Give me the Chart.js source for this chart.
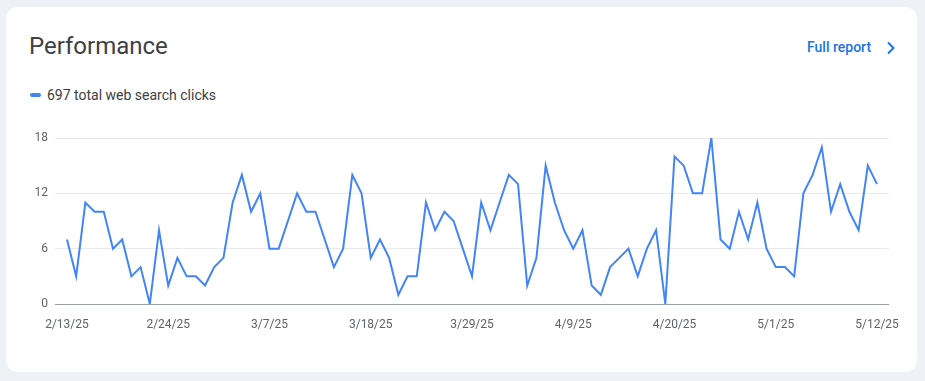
<!DOCTYPE html>
<html>
<head>
<meta charset="utf-8">
<script src="https://cdn.jsdelivr.net/npm/chart.js@4/dist/chart.umd.min.js"></script>
<style>
  html, body { margin: 0; padding: 0; }
  body { width: 925px; height: 381px; background: #eef1f6; position: relative; overflow: hidden; font-family: Roboto, "Noto Sans", sans-serif; }
  .card { position: absolute; left: 6px; top: 7px; width: 911px; height: 365px; background: #ffffff; border-radius: 12px; }
  .title { position: absolute; left: 29px; top: 32px; font-size: 24px; color: #3c4043; font-weight: 400; letter-spacing: 0px; }
  .link { position: absolute; left: 807px; top: 39px; font-size: 14px; color: #1a73e8; font-weight: 500; }
  .chev { position: absolute; left: 884px; top: 41px; }
  .legend { position: absolute; left: 30px; top: 87px; font-size: 14px; color: #3c4043; }
  .legend .sw { display: inline-block; width: 11px; height: 4px; border-radius: 2px; background: #4285f4; vertical-align: middle; margin-right: 6px; position: relative; top: -1px; }
  #wrap { position: absolute; left: 0; top: 121px; width: 925px; height: 220px; }
</style>
</head>
<body>
<div class="card"></div>
<div class="title">Performance</div>
<div class="link">Full report</div>
<svg class="chev" width="14" height="14" viewBox="0 0 14 14"><path d="M4 1.5 L9.5 7 L4 12.5" fill="none" stroke="#1a73e8" stroke-width="2"/></svg>
<div class="legend"><span class="sw"></span>697 total web search clicks</div>
<div id="wrap"><canvas id="c" width="925" height="220"></canvas></div>
<script>
const dates = [
  "2/13/25","2/14/25","2/15/25","2/16/25","2/17/25","2/18/25","2/19/25","2/20/25","2/21/25","2/22/25","2/23/25","2/24/25","2/25/25","2/26/25","2/27/25","2/28/25",
  "3/1/25","3/2/25","3/3/25","3/4/25","3/5/25","3/6/25","3/7/25","3/8/25","3/9/25","3/10/25","3/11/25","3/12/25","3/13/25","3/14/25","3/15/25","3/16/25","3/17/25","3/18/25","3/19/25","3/20/25","3/21/25","3/22/25","3/23/25","3/24/25","3/25/25","3/26/25","3/27/25","3/28/25","3/29/25","3/30/25","3/31/25",
  "4/1/25","4/2/25","4/3/25","4/4/25","4/5/25","4/6/25","4/7/25","4/8/25","4/9/25","4/10/25","4/11/25","4/12/25","4/13/25","4/14/25","4/15/25","4/16/25","4/17/25","4/18/25","4/19/25","4/20/25","4/21/25","4/22/25","4/23/25","4/24/25","4/25/25","4/26/25","4/27/25","4/28/25","4/29/25","4/30/25",
  "5/1/25","5/2/25","5/3/25","5/4/25","5/5/25","5/6/25","5/7/25","5/8/25","5/9/25","5/10/25","5/11/25","5/12/25"
];
const clicks = [
  7,3,11,10,10,6,7,3,4,0,8,2,5,3,3,2,
  4,5,11,14,10,12,6,6,9,12,10,10,7,4,6,14,12,5,7,5,1,3,3,11,8,10,9,6,3,11,8,
  11,14,13,2,5,15,11,8,6,8,2,1,4,5,6,3,6,8,0,16,15,12,12,18,7,6,10,7,11,6,
  4,4,3,12,14,17,10,13,10,8,15,13
];
const xTickLabels = ["2/13/25","2/24/25","3/7/25","3/18/25","3/29/25","4/9/25","4/20/25","5/1/25","5/12/25"];
const yTicks = [0, 6, 12, 18];

const points = clicks.map((v, i) => ({ x: i, y: v }));
const xTickIdx = xTickLabels.map(l => dates.indexOf(l));

new Chart(document.getElementById('c'), {
  type: 'line',
  data: { datasets: [{ data: points, borderColor: '#4285f4', borderWidth: 2, pointRadius: 0, tension: 0, fill: false, borderJoinStyle: 'miter' }] },
  options: {
    responsive: false, animation: false,
    layout: { padding: { left: 0, right: 36, top: 17, bottom: 0 } },
    plugins: { legend: { display: false }, tooltip: { enabled: false } },
    scales: {
      x: {
        type: 'linear', min: -1.3, max: dates.length - 1 + 1.3,
        afterFit: a => { a.height = 37; },
        afterBuildTicks: a => { a.ticks = xTickIdx.map(v => ({ value: v })); },
        grid: { display: false, drawTicks: false },
        border: { display: false },
        ticks: { autoSkip: false, maxRotation: 0, padding: 14, color: '#5f6368', font: { family: 'Roboto', size: 12 },
                 callback: v => dates[v] }
      },
      y: {
        min: 0, max: 18,
        afterFit: a => { a.width = 55; },
        afterBuildTicks: a => { a.ticks = yTicks.map(v => ({ value: v })); },
        grid: { drawTicks: false, color: c => c.tick && c.tick.value === 0 ? '#9aa0a6' : '#e8eaed', lineWidth: 1 },
        border: { display: false },
        ticks: { padding: 7, color: '#5f6368', font: { family: 'Roboto', size: 12 } }
      }
    }
  }
});
</script>
</body>
</html>
